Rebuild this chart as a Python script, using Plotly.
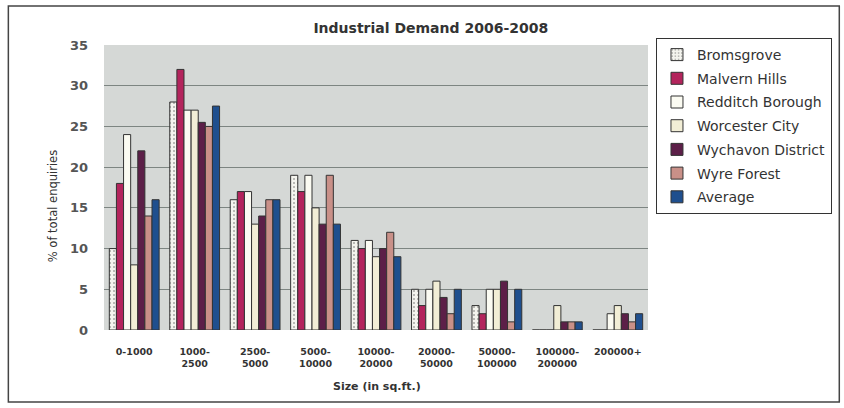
import plotly.graph_objects as go

# Floor-space size bands (sq.ft.)
categories = ["0-1000", "1000-<br>2500", "2500-<br>5000", "5000-<br>10000", "10000-<br>20000",
              "20000-<br>50000", "50000-<br>100000", "100000-<br>200000", "200000+"]

# Share of total enquiries (%) per district
bromsgrove = [10, 28, 16, 19, 11, 5, 3, 0, 0]
malvern_hills = [18, 32, 17, 17, 10, 3, 2, 0, 0]
redditch_borough = [24, 27, 17, 19, 11, 5, 5, 0, 2]
worcester_city = [8, 27, 13, 15, 9, 6, 5, 3, 3]
wychavon_district = [22, 25.5, 14, 13, 10, 4, 6, 1, 2]
wyre_forest = [14, 25, 16, 19, 12, 2, 1, 1, 1]
average = [16, 27.5, 16, 13, 9, 5, 5, 1, 2]

series = [
    ("Bromsgrove", bromsgrove, "#F4F4EE"),
    ("Malvern Hills", malvern_hills, "#B3245C"),
    ("Redditch Borough", redditch_borough, "#FBFBF2"),
    ("Worcester City", worcester_city, "#F2EED6"),
    ("Wychavon District", wychavon_district, "#5C1F48"),
    ("Wyre Forest", wyre_forest, "#C99088"),
    ("Average", average, "#1F4F8E"),
]

FONT = "DejaVu Sans, Verdana, sans-serif"
INK = "#333333"

fig = go.Figure()
for name, vals, col in series:
    pattern = dict(shape=".", fgcolor="#555555", size=4) if name == "Bromsgrove" else None
    fig.add_trace(go.Bar(
        name=name, x=categories, y=vals, legendgroup=name,
        marker=dict(color=col, line=dict(color="#333333", width=1),
                    pattern=pattern),
    ))

# Pixel geometry of the plot area inside the 844x408 canvas
L, R, T, B = 104, 194, 45, 78
pw = 844 - L - R
ph = 408 - T - B

def px(x):
    return (x - L) / pw

def py(y):
    return (408 - B - y) / ph

fig.update_layout(
    width=844, height=408,
    margin=dict(l=L, r=R, t=T, b=B),
    paper_bgcolor="white",
    plot_bgcolor="#D5D8D6",
    barmode="group",
    bargap=0.176, bargroupgap=0,
    font=dict(family=FONT, color=INK),
    title=dict(text="<b>Industrial Demand 2006-2008</b>", x=px(432), xref="paper",
               xanchor="center", y=1 - 28 / 408, yanchor="middle",
               font=dict(size=14, color=INK)),
    xaxis=dict(
        tickfont=dict(size=9.5, color=INK, family=FONT, weight="bold"),
        ticklabelstandoff=14,
        ticks="", showline=False,
    ),
    yaxis=dict(
        range=[0, 35], dtick=5,
        tickfont=dict(size=13, color="#555555", family=FONT, weight="bold"),
        ticklabelstandoff=15,
        showgrid=True, gridcolor="#7D8582", gridwidth=1,
        zeroline=False, ticks="",
    ),
    legend=dict(
        x=px(658), y=py(38), xanchor="left", yanchor="top",
        bgcolor="white", bordercolor="#333333", borderwidth=1,
        font=dict(size=14, color=INK, family=FONT),
        itemwidth=30, tracegroupgap=2.5, traceorder="grouped",
    ),
    annotations=[
        dict(text="<b>Size (in sq.ft.)</b>", xref="paper", yref="paper",
             x=px(378), y=py(395), showarrow=False,
             font=dict(size=11, color=INK, family=FONT)),
        dict(text="% of total enquiries", xref="paper", yref="paper",
             x=px(44), y=py(206), showarrow=False, textangle=-90,
             font=dict(size=11.5, color=INK, family=FONT)),
    ],
    shapes=[
        # chart-area frame
        dict(type="rect", xref="paper", yref="paper",
             x0=px(8), x1=px(842), y0=py(402), y1=py(6),
             line=dict(color="#444444", width=1.5), fillcolor="rgba(0,0,0,0)",
             layer="below"),
    ],
)

fig.write_html("out.html")
